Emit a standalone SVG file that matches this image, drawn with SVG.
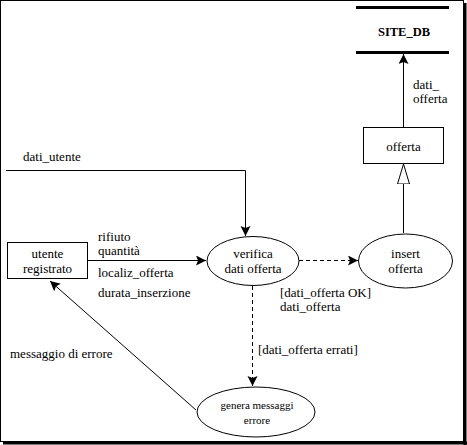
<svg xmlns="http://www.w3.org/2000/svg" width="467" height="445" viewBox="0 0 467 445">
<style>
text{font-family:"Liberation Serif","Times New Roman",serif;font-size:13px;fill:#000}
.c{text-anchor:middle}
.s{font-size:11px}
.b{font-weight:bold;font-size:12.5px}
.ln{stroke:#000;stroke-width:1;fill:none}
.d{stroke-dasharray:4,3}
.sh{fill:#fff;stroke:#000;stroke-width:1}
</style>
<defs>
<marker id="ah" markerWidth="10" markerHeight="12" refX="10" refY="5" orient="auto" markerUnits="userSpaceOnUse">
<path d="M0,0 L10,5 L0,10 L2,5 Z" fill="#000"/>
</marker>
<marker id="tri" markerWidth="20" markerHeight="14" refX="20" refY="6.5" orient="auto" markerUnits="userSpaceOnUse">
<path d="M0,0.5 L20,6.5 L0,12.5 Z" fill="#fff" stroke="#000" stroke-width="1"/>
</marker>
</defs>
<rect x="0.5" y="0.5" width="463" height="441" fill="#fff" stroke="#000" stroke-width="1"/>
<line x1="465" y1="3" x2="465" y2="445" stroke="#000" stroke-width="3"/>
<line x1="3" y1="443" x2="467" y2="443" stroke="#000" stroke-width="3"/>
<g id="connectors">
<polyline class="ln" points="6,170.5 245.5,170.5 245.5,236" marker-end="url(#ah)"/>
<line class="ln" x1="87" y1="260.5" x2="206" y2="260.5" marker-end="url(#ah)"/>
<line class="ln d" x1="299" y1="260.5" x2="358" y2="260.5" marker-end="url(#ah)"/>
<line class="ln d" x1="252.5" y1="286" x2="252.5" y2="386" marker-end="url(#ah)"/>
<line class="ln" x1="196" y1="410" x2="50" y2="281" marker-end="url(#ah)"/>
<line class="ln" x1="403.5" y1="233" x2="403.5" y2="164" marker-end="url(#tri)"/>
<line class="ln" x1="403.5" y1="127" x2="403.5" y2="54" marker-end="url(#ah)"/>
<text x="23" y="161">dati_utente</text>
<text x="98" y="241">rifiuto</text>
<text x="98" y="255">quantità</text>
<text x="98" y="277">localiz_offerta</text>
<text x="98" y="297">durata_inserzione</text>
<text x="280" y="297">[dati_offerta OK]</text>
<text x="280" y="311">dati_offerta</text>
<text x="258" y="354">[dati_offerta errati]</text>
<text x="10" y="358">messaggio di errore</text>
<text x="413" y="89">dati_</text>
<text x="413" y="103">offerta</text>
</g>
<g id="site_db">
<line x1="356" y1="7.5" x2="449" y2="7.5" stroke="#000" stroke-width="3"/>
<line x1="356" y1="52.5" x2="449" y2="52.5" stroke="#000" stroke-width="3"/>
<text class="c b" x="404" y="36">SITE_DB</text>
</g>
<g id="offerta">
<rect class="sh" x="363.5" y="127.5" width="80" height="36"/>
<text class="c" x="403.5" y="151">offerta</text>
</g>
<g id="insert_offerta">
<ellipse class="sh" cx="405.5" cy="261" rx="47" ry="27"/>
<text class="c" x="405.5" y="258">insert</text>
<text class="c" x="405.5" y="273">offerta</text>
</g>
<g id="verifica">
<ellipse class="sh" cx="253" cy="261" rx="46" ry="24.5"/>
<text class="c" x="253" y="258">verifica</text>
<text class="c" x="253" y="273">dati offerta</text>
</g>
<g id="utente_registrato">
<rect class="sh" x="7.5" y="242.5" width="80" height="36"/>
<text class="c" x="47.5" y="258">utente</text>
<text class="c" x="47.5" y="273">registrato</text>
</g>
<g id="genera">
<ellipse class="sh" cx="256" cy="412" rx="59" ry="25"/>
<text class="c s" x="257" y="409">genera messaggi</text>
<text class="c s" x="257" y="424">errore</text>
</g>
</svg>
